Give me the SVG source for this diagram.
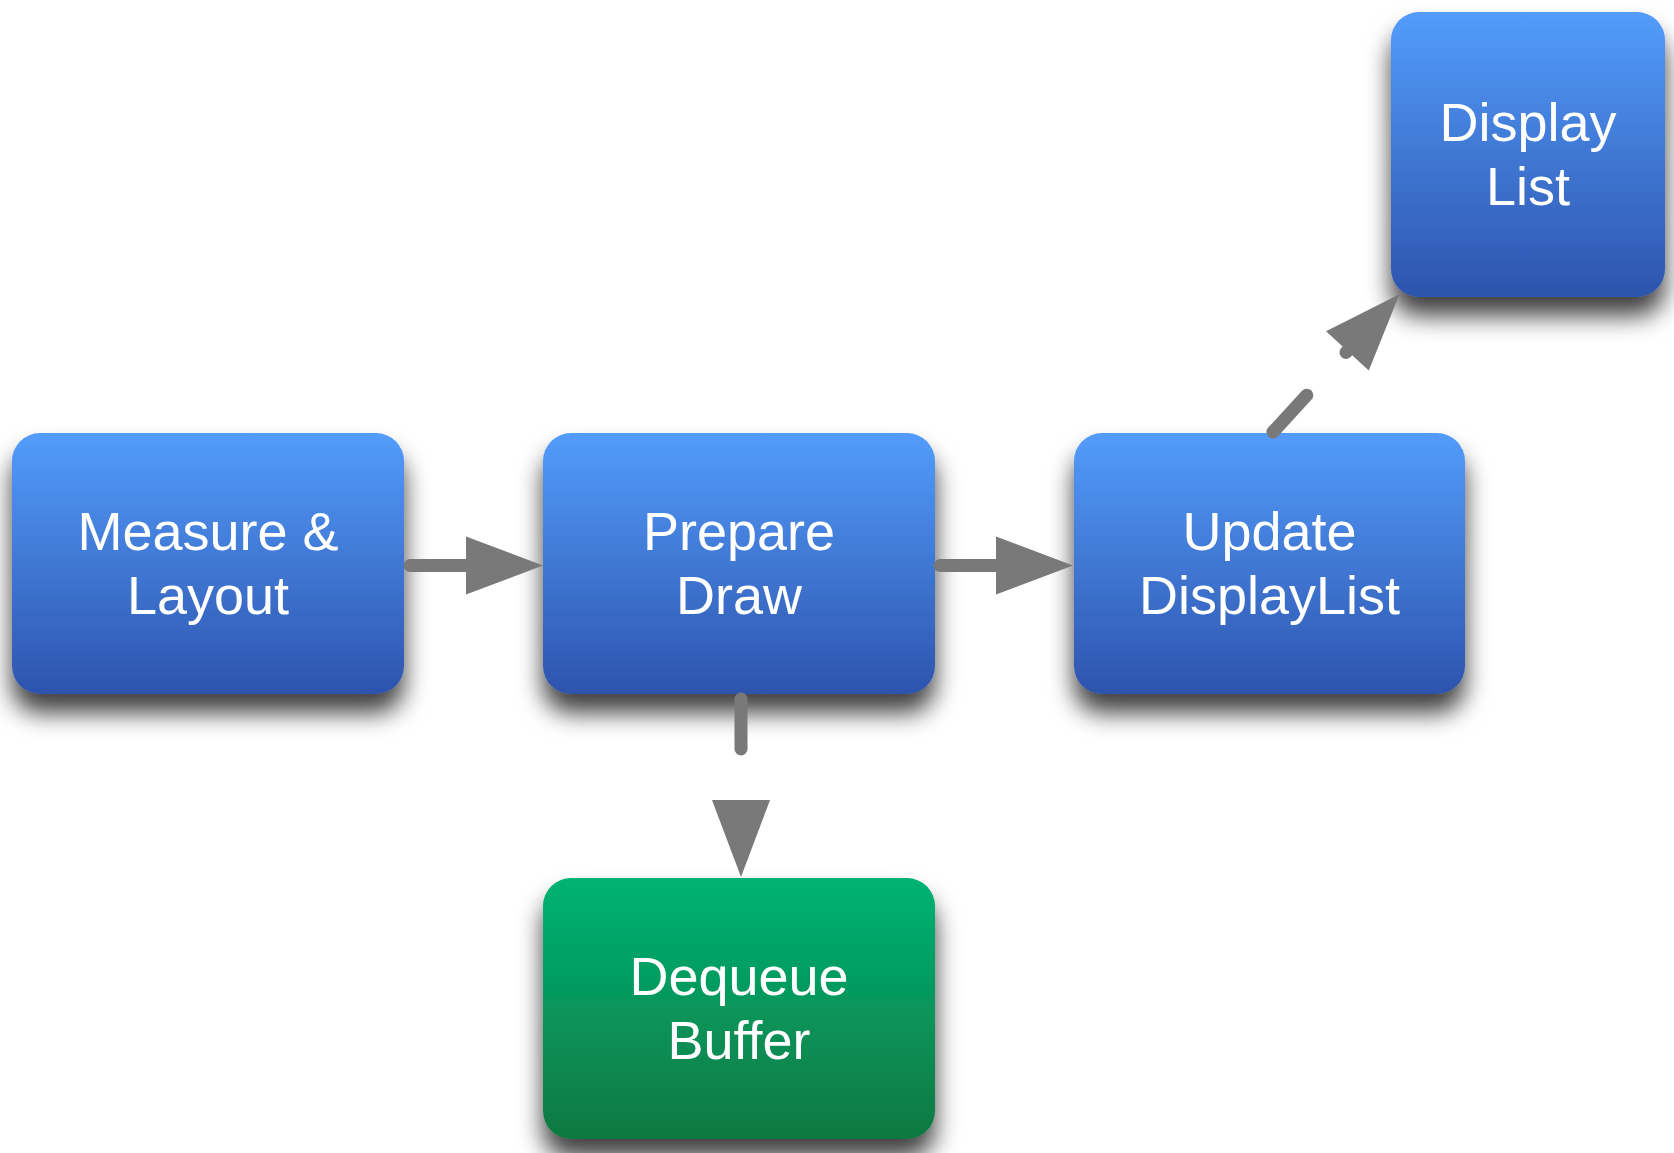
<svg xmlns="http://www.w3.org/2000/svg" width="1674" height="1153" viewBox="0 0 1674 1153">
  <defs>
    <linearGradient id="blueFill" x1="0" y1="0" x2="0" y2="1">
      <stop offset="0" stop-color="#539CFB"/>
      <stop offset="1" stop-color="#2D54AD"/>
    </linearGradient>
    <linearGradient id="greenFill" x1="0" y1="0" x2="0" y2="1">
      <stop offset="0" stop-color="#00B374"/>
      <stop offset="1" stop-color="#0E7841"/>
    </linearGradient>
    <filter id="shadow" x="-25%" y="-25%" width="150%" height="160%">
      <feDropShadow dx="0" dy="19" stdDeviation="12" flood-color="#000" flood-opacity="0.75"/>
    </filter>
    <marker id="head" markerUnits="userSpaceOnUse" viewBox="0 -30 80 60" markerWidth="80" markerHeight="60" refX="0" refY="0" orient="auto" overflow="visible">
      <path d="M0,-29 L77,0 L0,29 Z" fill="#797979"/>
    </marker>
    <style>
      .box { stroke: none; filter: url(#shadow); }
      .blue { fill: url(#blueFill); }
      .green { fill: url(#greenFill); }
      .label { font-family: "Liberation Sans", Arial, sans-serif; font-size: 54px; fill: #FFFFFF; text-anchor: middle; }
      .edge { fill: none; stroke: #797979; stroke-width: 13; stroke-linecap: round; marker-end: url(#head); }
      .dashed { stroke-dasharray: 50 58; }
    </style>
  </defs>

  <rect width="1674" height="1153" fill="#FFFFFF"/>

  <!-- process boxes -->
  <g id="measure-layout">
    <rect class="box blue" x="12" y="433" width="392" height="261" rx="28"/>
    <text class="label" x="208" y="549.5">Measure &amp;</text>
    <text class="label" x="208" y="613.5">Layout</text>
  </g>

  <g id="prepare-draw">
    <rect class="box blue" x="543" y="433" width="392" height="261" rx="28"/>
    <text class="label" x="739" y="549.5">Prepare</text>
    <text class="label" x="739" y="613.5">Draw</text>
  </g>

  <g id="update-displaylist">
    <rect class="box blue" x="1074" y="433" width="391" height="261" rx="28"/>
    <text class="label" x="1269.5" y="549.5">Update</text>
    <text class="label" x="1269.5" y="613.5">DisplayList</text>
  </g>

  <g id="display-list">
    <rect class="box blue" x="1391" y="12" width="274" height="285" rx="28"/>
    <text class="label" x="1528" y="140.5">Display</text>
    <text class="label" x="1528" y="204.5">List</text>
  </g>

  <g id="dequeue-buffer">
    <rect class="box green" x="543" y="878" width="392" height="261" rx="28"/>
    <text class="label" x="739" y="994.5">Dequeue</text>
    <text class="label" x="739" y="1058.5">Buffer</text>
  </g>

  <!-- connectors -->
  <g id="connectors">
    <line class="edge" x1="410" y1="565.5" x2="466" y2="565.5"/>
    <line class="edge" x1="940" y1="565.5" x2="996" y2="565.5"/>
    <line class="edge dashed" x1="741" y1="699" x2="741" y2="800"/>
    <line class="edge dashed" x1="1273" y1="432" x2="1347.4" y2="350.9"/>
  </g>
</svg>
